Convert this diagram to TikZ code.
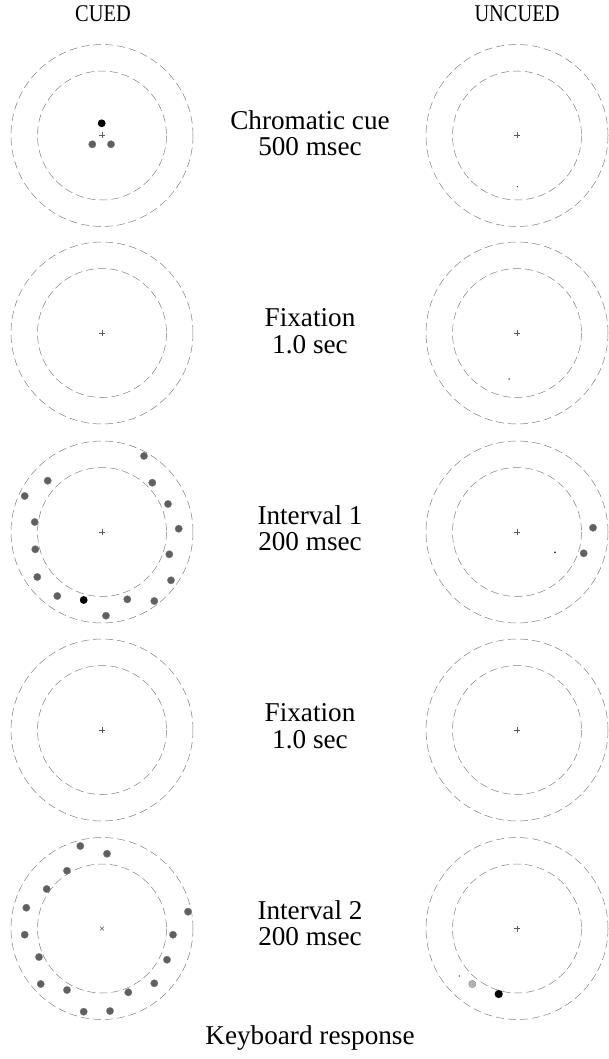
\documentclass[tikz,border=0pt]{standalone}
\usepackage{fontspec}
\setmainfont{Liberation Serif}
\newfontfamily\headfont[FakeStretch=0.85]{Liberation Serif}
\usetikzlibrary{positioning}

\begin{document}
\begin{tikzpicture}[x=1pt, y=-1pt,
    ring/.style={draw=gray, line width=0.5pt, dash pattern=on 8pt off 4pt},
    spot/.style={circle, fill=gray!75!black, draw=gray, line width=0.3pt, inner sep=0pt, minimum size=7.4pt},
    target/.style={circle, fill=black, inner sep=0pt, minimum size=7.8pt},
    speck/.style={circle, fill=black, inner sep=0pt, minimum size=1.8pt},
    fix/.style={draw=gray!70!black, line width=0.4pt},
    head/.style={font=\headfont\fontsize{24}{26}\selectfont},
    event/.style={align=center, font=\fontsize{27.2}{26.5}\selectfont}]

    \useasboundingbox (0,0) rectangle (609,1059);

    % circle centres
    \foreach \n/\y in {1/135.5, 2/333, 3/532, 4/730, 5/928.5} {
      \coordinate (c\n) at (102,\y);
      \coordinate (u\n) at (517,\y);
      \draw[ring] (c\n) circle (91) (c\n) circle (64.5);
      \draw[ring] (u\n) circle (91) (u\n) circle (64.5);
      \draw[fix] (u\n) ++(-3,0) -- ++(6,0) (u\n) ++(0,-3) -- ++(0,6);
    }
    \foreach \n in {1,2,3,4} {
      \draw[fix] (c\n) ++(-3,0) -- ++(6,0) (c\n) ++(0,-3) -- ++(0,6);
    }
    \draw[fix] (c5) ++(-2,-2) -- ++(4,4) (c5) ++(-2,2) -- ++(4,-4);

    \node[head] (cued) at (103,14) {CUED};
    \node[head] (uncued) at (517,14) {UNCUED};

    \node[event] (e1) at (310,133) {Chromatic cue\\500 msec};
    \node[event] (e2) at (310,331) {Fixation\\1.0 sec};
    \node[event] (e3) at (310,528) {Interval 1\\200 msec};
    \node[event] (e4) at (310,726) {Fixation\\1.0 sec};
    \node[event] (e5) at (310,923) {Interval 2\\200 msec};
    \node[event] (resp) at (310,1038) {Keyboard response};

    % chromatic cue
    \node[target] (t1) at (101.7,123.3) {};
    \node[spot] at (92.3,144.3) {};
    \node[spot] at (111,144.3) {};
    \node[speck, minimum size=1.2pt] at (517.3,186.7) {};

    % fixation
    \node[speck, minimum size=1.5pt] at (509,379) {};

    % interval 1, cued
    \foreach \x/\y in {144/456, 152.3/482.7, 168/504, 178.7/528.7, 169.3/554.3,
      171/580.3, 154.3/601, 127.3/599.3, 106/615.7, 57.3/596, 37.3/577,
      35.3/549.3, 34.7/522, 24.7/496, 47.7/480.7}
      \node[spot] at (\x,\y) {};
    \node[target] (t3) at (83.7,600) {};

    % interval 1, uncued
    \node[spot] at (593,527.7) {};
    \node[spot] at (583.7,553.3) {};
    \node[speck] at (555,552.3) {};

    % interval 2, cued
    \foreach \x/\y in {80.3/846, 107/853.7, 67/870.7, 46.7/889, 26.3/907.7,
      24.7/934.7, 39/957, 40.7/984, 67/990, 83.7/1011.7, 110/1011,
      128.3/992.3, 154.3/983.3, 167/959.7, 173/934.7, 188/911.7}
      \node[spot] at (\x,\y) {};

    % interval 2, uncued
    \node[spot, fill=gray!60] at (472.3,984) {};
    \node[target, minimum size=8.2pt] (t5) at (498.7,994) {};
    \node[speck, minimum size=1.2pt] at (459.3,976) {};

\end{tikzpicture}
\end{document}
